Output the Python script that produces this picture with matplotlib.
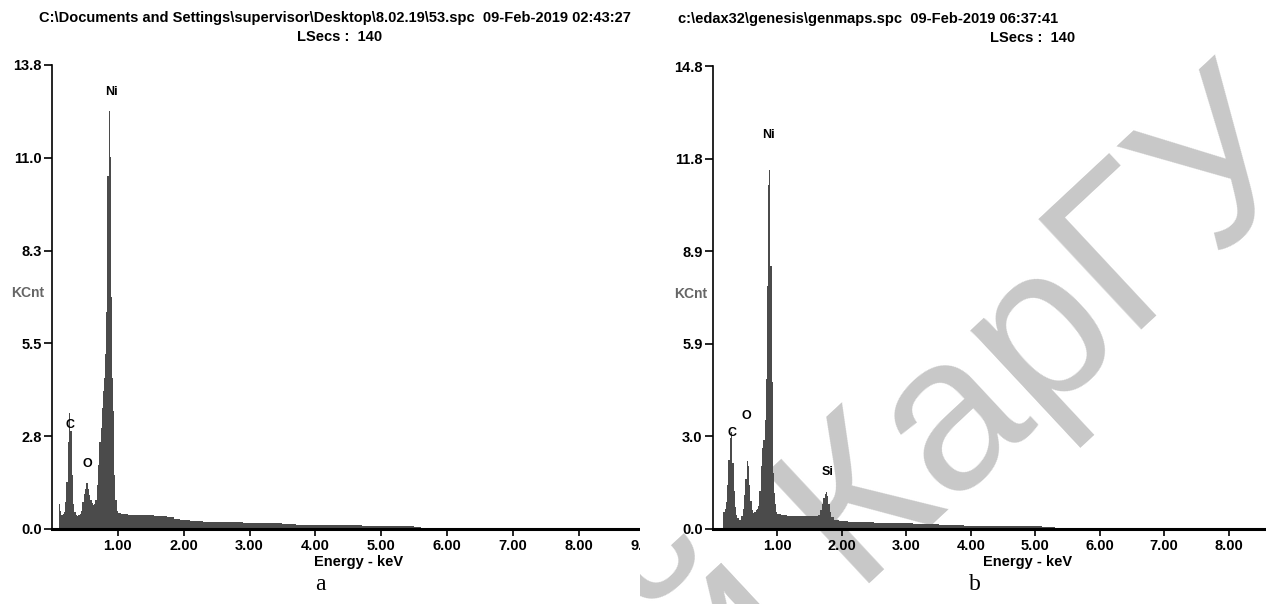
import numpy as np
import matplotlib
matplotlib.use('Agg')
import matplotlib.pyplot as plt
import matplotlib.patches as patches
from matplotlib.transforms import Bbox, TransformedBbox

plt.rcParams['font.family'] = ['Liberation Sans', 'DejaVu Sans']

# spectrum a : energy (keV) and counts (KCnt)
energy_a = [0.11, 0.13, 0.15, 0.17, 0.19, 0.21, 0.23, 0.25, 0.27, 0.29, 0.31, 0.33,
            0.35, 0.37, 0.39, 0.41, 0.43, 0.45, 0.47, 0.49, 0.51, 0.53, 0.55, 0.57,
            0.59, 0.61, 0.63, 0.65, 0.67, 0.69, 0.71, 0.73, 0.75, 0.77, 0.79, 0.80,
            0.81, 0.82, 0.83, 0.84, 0.85, 0.86, 0.87, 0.88, 0.89, 0.90, 0.91, 0.92,
            0.93, 0.95, 0.97, 0.99, 1.01, 1.1, 1.2, 1.3, 1.4, 1.5, 1.6, 1.7, 1.8,
            1.9, 2.0, 2.2, 2.4, 2.6, 2.8, 3.0, 3.2, 3.4, 3.6, 3.8, 4.0, 4.2, 4.4,
            4.6, 4.8, 5.0, 5.2, 5.4, 5.6]
counts_a = [0.75, 0.55, 0.42, 0.45, 0.50, 0.80, 1.40, 2.60, 3.45, 2.90, 1.60, 0.75,
            0.50, 0.42, 0.40, 0.42, 0.45, 0.55, 0.80, 1.05, 1.20, 1.37, 1.20, 1.00,
            0.85, 0.78, 0.72, 0.75, 0.85, 1.30, 1.90, 2.60, 3.00, 3.60, 4.10, 4.50,
            5.20, 6.45, 6.45, 10.5, 10.5, 10.5, 12.44, 11.07, 11.07, 6.90, 6.90, 4.50,
            3.50, 1.60, 0.85, 0.55, 0.48, 0.45, 0.43, 0.42, 0.43, 0.41, 0.40, 0.38, 0.36,
            0.30, 0.27, 0.25, 0.22, 0.21, 0.20, 0.19, 0.18, 0.17, 0.14, 0.13, 0.12, 0.12, 0.11,
            0.11, 0.10, 0.09, 0.09, 0.08, 0.07]

# spectrum b
energy_b = [0.15, 0.17, 0.19, 0.21, 0.23, 0.25, 0.27, 0.28, 0.29, 0.31, 0.33, 0.35,
            0.37, 0.39, 0.41, 0.43, 0.45, 0.47, 0.49, 0.51, 0.53, 0.54, 0.55, 0.57,
            0.59, 0.61, 0.63, 0.65, 0.67, 0.69, 0.71, 0.73, 0.75, 0.77, 0.79, 0.81,
            0.83, 0.84, 0.85, 0.86, 0.87, 0.88, 0.89, 0.90, 0.91, 0.92, 0.93, 0.94,
            0.955, 0.97, 0.99, 1.01, 1.1, 1.2, 1.3, 1.4, 1.5, 1.6, 1.65, 1.68, 1.70,
            1.72, 1.74, 1.76, 1.78, 1.80, 1.82, 1.85, 1.9, 2.0, 2.2, 2.4, 2.6, 2.8,
            3.0, 3.2, 3.4, 3.6, 3.8, 4.0, 4.2, 4.4, 4.6, 4.8, 5.0, 5.2, 5.3]
counts_b = [0.35, 0.55, 0.65, 0.85, 1.40, 2.20, 2.90, 3.39, 3.10, 2.10, 1.20, 0.70,
            0.45, 0.35, 0.30, 0.30, 0.40, 0.65, 1.10, 1.60, 2.00, 2.18, 2.00, 1.40,
            0.90, 0.60, 0.50, 0.55, 0.60, 0.65, 0.75, 1.20, 2.00, 2.60, 2.85, 3.50,
            4.80, 7.77, 7.77, 11.0, 11.0, 11.47, 8.40, 8.40, 8.40, 4.70, 2.60, 1.80,
            1.15, 0.80, 0.55, 0.48, 0.44, 0.43, 0.42, 0.41, 0.40, 0.40, 0.45, 0.60, 0.80,
            1.00, 1.12, 1.19, 1.05, 0.80, 0.55, 0.38, 0.30, 0.24, 0.22, 0.21, 0.20, 0.19,
            0.18, 0.16, 0.15, 0.13, 0.12, 0.11, 0.10, 0.09, 0.09, 0.08, 0.08, 0.07, 0.07]

yticks_a = [0.0, 2.76, 5.52, 8.28, 11.04, 13.8]
yticks_b = [0.0, 2.96, 5.92, 8.88, 11.84, 14.8]
xticks_a = [1, 2, 3, 4, 5, 6, 7, 8, 9]
xticks_b = [1, 2, 3, 4, 5, 6, 7, 8]

peaks_a = ['Ni', 'C', 'O']
peak_pos_a = [(0.90, 13.0), (0.27, 3.1), (0.53, 1.93)]
peaks_b = ['Ni', 'C', 'O', 'Si']
peak_pos_b = [(0.86, 12.6), (0.29, 3.07), (0.52, 3.6), (1.78, 1.82)]

title_a = 'C:\\Documents and Settings\\supervisor\\Desktop\\8.02.19\\53.spc  09-Feb-2019 02:43:27'
title_b = 'c:\\edax32\\genesis\\genmaps.spc  09-Feb-2019 06:37:41'
lsecs = 'LSecs :  140'
watermark = 'Репозиторий КарГУ'

W, H = 1266, 604
fig = plt.figure(figsize=(W / 100, H / 100), dpi=100)
fig.patch.set_facecolor('white')

def px(x0, y0, x1, y1):
    # pixel box -> figure fraction [left, bottom, width, height]
    return [x0 / W, 1 - y1 / H, (x1 - x0) / W, (y1 - y0) / H]

ax_a = fig.add_axes(px(52, 65, 648, 529), zorder=0)
ax_b = fig.add_axes(px(713, 66, 1266, 529), zorder=1)

bar_color = '#4b4b4b'

def style(ax, xmax, ymax, xt, yt, title, tx, lx, peaks, pos):
    ax.set_facecolor('none')
    ax.set_xlim(0, xmax)
    ax.set_ylim(0, ymax)
    for s in ['top', 'right']:
        ax.spines[s].set_visible(False)
    ax.spines['left'].set_linewidth(1.2)
    ax.spines['bottom'].set_linewidth(2.2)
    ax.set_xticks(xt)
    ax.set_xticklabels(['%.2f' % v for v in xt])
    ax.set_yticks(yt)
    ax.set_yticklabels(['%.1f' % v for v in yt])
    ax.tick_params(axis='y', direction='out', length=6, width=1.2, pad=1.5,
                   labelsize=10.5)
    ax.tick_params(axis='x', direction='out', length=5, width=1.2, pad=2,
                   labelsize=10.5)
    for lab in ax.get_xticklabels() + ax.get_yticklabels():
        lab.set_fontweight('bold')
    ax.set_xlabel('Energy - keV', fontsize=10.5, fontweight='bold', va='center')
    ax.xaxis.set_label_coords(lx, -0.071)
    ax.text(-0.068, (529 - 293) / 464, 'KCnt', transform=ax.transAxes,
            color='#666666', fontsize=10, fontweight='bold', va='center', ha='left')
    ax.text(tx[0], 1.101, title, transform=ax.transAxes, ha='center', va='center',
            fontsize=10.5, fontweight='bold')
    ax.text(tx[1], 1.060, lsecs, transform=ax.transAxes, ha='center', va='center',
            fontsize=10.5, fontweight='bold')
    for name, (x, y) in zip(peaks, pos):
        ax.text(x, y, name, ha='center', va='center', fontsize=9, fontweight='bold')

ax_a.fill_between(energy_a, counts_a, step='mid', color=bar_color, lw=0, zorder=2)
ax_b.fill_between(energy_b, counts_b, step='mid', color=bar_color, lw=0, zorder=2)

style(ax_a, 9.05, 13.8, xticks_a, yticks_a, title_a, (0.475, 0.483), 0.515,
      peaks_a, peak_pos_a)
style(ax_b, 8.58, 14.8, xticks_b, yticks_b, title_b, (0.280, 0.577), 0.568,
      peaks_b, peak_pos_b)
ax_b.texts[0].set_x(-0.07)

# white strip hides the left panel beyond its cropped edge
rect = patches.Rectangle((640 / W, 0), 73 / W, 1, transform=fig.transFigure,
                         facecolor='white', edgecolor='none', zorder=0.5)
fig.add_artist(rect)

wm = fig.text(1318 / W, 1 - 165 / H, watermark, ha='right', va='baseline',
              rotation=43, rotation_mode='anchor', fontsize=158, color='#c8c8c8',
              zorder=0.7)
wm.set_clip_box(TransformedBbox(Bbox([[640 / W, 0], [1, 1]]), fig.transFigure))
wm.set_clip_on(True)

fig.text(320 / W, 1 - 585 / H, 'a', family='Liberation Serif', fontsize=17,
         ha='center', va='center')
fig.text(975 / W, 1 - 585 / H, 'b', family='Liberation Serif', fontsize=17,
         ha='center', va='center')

fig.savefig('out.png', dpi=100)
